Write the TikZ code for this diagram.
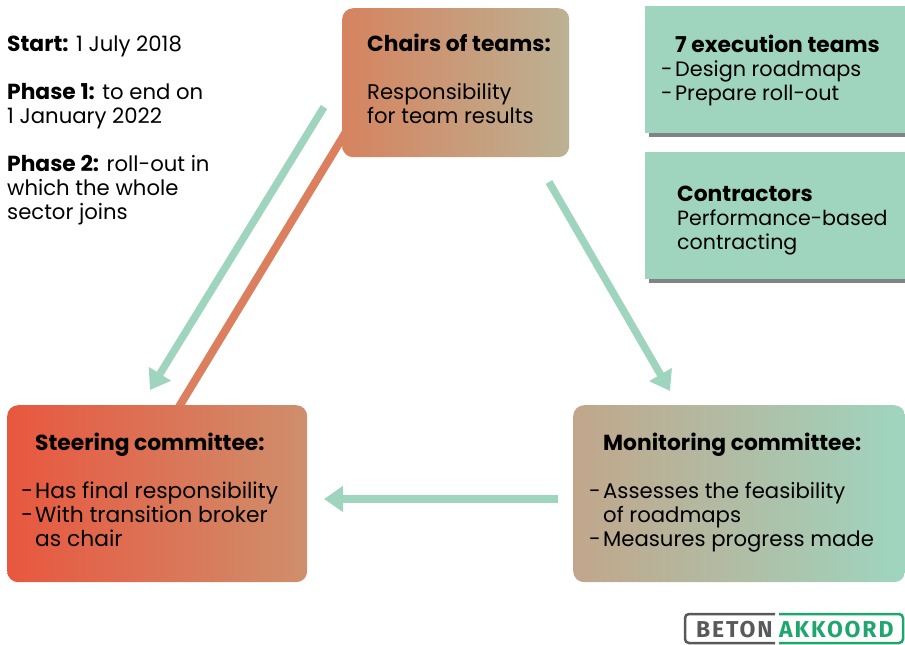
\documentclass[tikz,border=0pt]{standalone}
\usepackage{fontspec}
\setmainfont{Poppins}
\newfontfamily\logofont[LetterSpace=8]{Fira Sans}
\usetikzlibrary{arrows, arrows.meta}
\usetikzlibrary{calc}
\definecolor{mint}{HTML}{9FD5BF}
\definecolor{shadowgray}{HTML}{808285}
\definecolor{clay}{HTML}{DC7F5F}
\definecolor{chairsleft}{HTML}{D6835F}
\definecolor{chairsright}{HTML}{BBB293}
\definecolor{steerleft}{HTML}{E8573F}
\definecolor{steerright}{HTML}{CF8F6C}
\definecolor{monleft}{HTML}{C1A68B}
\definecolor{monmid}{HTML}{AEC1A6}
\definecolor{logogray}{HTML}{58595B}
\definecolor{logogreen}{HTML}{1FA56E}
\newcommand{\hd}[1]{{\fontsize{21.8}{24}\selectfont\bfseries #1}}
\newcommand{\dashitem}{\makebox[14pt][l]{-}}
\tikzset{
  box/.style={rounded corners=11pt, inner sep=0pt, anchor=north west},
  txt/.style={anchor=north west, align=left, inner sep=0pt, font=\fontsize{21.2}{24}\selectfont},
  flow/.style={draw=mint, line width=7.5pt, -{Triangle[length=19pt, width=25pt]}},
  teambox/.style={fill=mint, minimum width=260pt, minimum height=127pt, inner sep=0pt, anchor=north west},
  teamback/.style={fill=shadowgray, minimum width=256pt, minimum height=120pt, anchor=north west},
  logoline/.style={line width=2.5pt, rounded corners=4pt},
  logotxt/.style={inner sep=0pt, font=\logofont\fontsize{23}{24}\selectfont\bfseries}
}
\begin{document}
\begin{tikzpicture}[x=1pt, y=-1pt]
      \useasboundingbox (0,0) rectangle (905,645);

      % connector behind the boxes
      \coordinate (c1) at (352,122);
      \coordinate (c2) at (174,415);
      \draw[clay, line width=8pt] (c1) -- (c2);

      % committees
      \node[box, minimum width=227pt, minimum height=149pt, left color=chairsleft, right color=chairsright] (chairs) at (342,8) {};
      \node[box, minimum width=300pt, minimum height=177pt, left color=steerleft, right color=steerright] (steering) at (7,405) {};
      \node[box, minimum width=332pt, minimum height=177pt, left color=monleft, middle color=monmid, right color=mint] (monitoring) at (573,405) {};

      % team boxes
      \node[teamback] (teamsback) at (649,17) {};
      \node[teambox] (teams) at (645,6) {};
      \node[teamback] (contrback) at (649,163) {};
      \node[teambox] (contr) at (645,152) {};

      % arrows
      \coordinate (a1) at (324,107);
      \coordinate (a2) at (150,390);
      \coordinate (a3) at (549,182);
      \coordinate (a4) at (670,391);
      \coordinate (a5) at (558,499);
      \coordinate (a6) at (324,499);
      \draw[flow] (a1) -- (a2);
      \draw[flow] (a3) -- (a4);
      \draw[flow] (a5) -- (a6);

      % texts
      \node[txt] (timeline) at (7,36) {\hd{Start:} 1 July 2018\\[24pt]\hd{Phase 1:} to end on\\1 January 2022\\[24pt]\hd{Phase 2:} roll-out in\\which the whole\\sector joins};
      \node[txt] (chairstxt) at (367,34) {\hd{Chairs of teams:}\\[24pt]Responsibility\\for team results};
      \node[txt, font=\fontsize{21.8}{24}\selectfont] (steertxt) at (21,433) {\hspace{14pt}\hd{Steering committee:}\\[24pt]\dashitem Has final responsibility\\\dashitem With transition broker\\\hspace{14pt}as chair};
      \node[txt] (montxt) at (589,433) {\hspace{14pt}\hd{Monitoring committee:}\\[24pt]\dashitem Assesses the feasibility\\\hspace{14pt}of roadmaps\\\dashitem Measures progress made};
      \node[txt, font=\fontsize{20.8}{24}\selectfont] (teamstxt) at (661,35) {\hspace{14pt}\hd{7 execution teams}\\\dashitem Design roadmaps\\\dashitem Prepare roll-out};
      \node[txt, font=\fontsize{20.6}{24}\selectfont] (contrtxt) at (677,186) {\hd{Contractors}\\Performance-based\\contracting};

      % logo
      \coordinate (l1) at (775,614);
      \coordinate (l2) at (685,614);
      \coordinate (l3) at (685,643);
      \coordinate (l4) at (775,643);
      \coordinate (l5) at (779,614);
      \coordinate (l6) at (903,614);
      \coordinate (l7) at (903,643);
      \coordinate (l8) at (779,643);
      \draw[logogray, logoline] (l1) -- (l2) -- (l3) -- (l4);
      \draw[logogreen, logoline] (l5) -- (l6) -- (l7) -- (l8);
      \node[logotxt, text=logogray, anchor=west] (beton) at (696,630) {BETON};
      \node[logotxt, text=logogreen, anchor=west] (akkoord) at (779,630) {AKKOORD};
\end{tikzpicture}
\end{document}
